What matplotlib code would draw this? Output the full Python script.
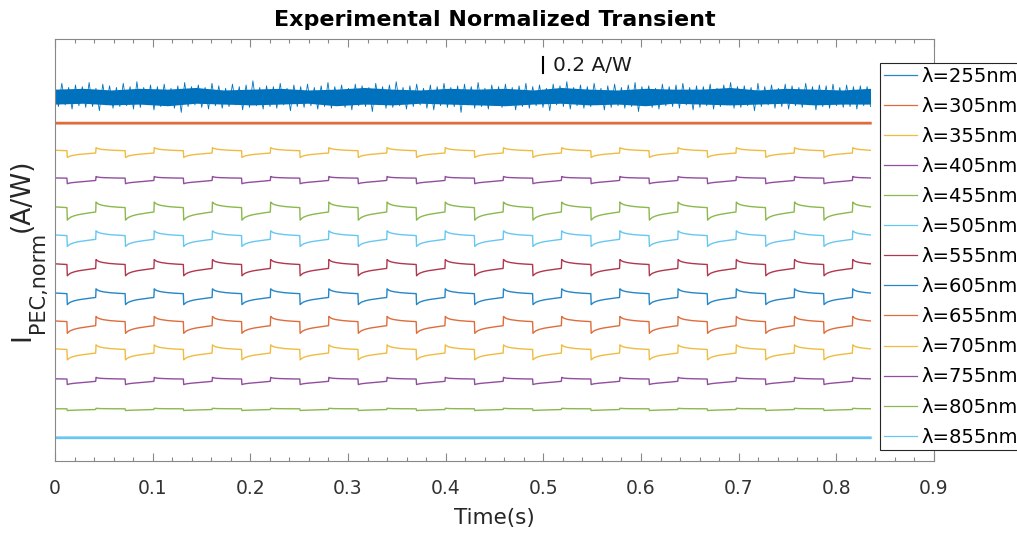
#! /usr/bin/env python
# Experimental normalized transient, stacked traces per wavelength
import numpy as np
import matplotlib.pyplot as plt
from matplotlib.lines import Line2D

plt.rcParams['font.family'] = ['DejaVu Sans']

# wavelengths and matlab colour order
wavelengths = [255, 305, 355, 405, 455, 505, 555, 605, 655, 705, 755, 805, 855]
colors = ['#0072BD', '#D95319', '#EDB120', '#7E2F8E', '#77AC30', '#4DBEEE', '#A2142F',
          '#0072BD', '#D95319', '#EDB120', '#7E2F8E', '#77AC30', '#4DBEEE']

# vertical offset of each trace (A/W) and height of the switching spike (A/W)
offsets = [4.39, 4.07, 3.71, 3.38, 3.00, 2.67, 2.32, 1.97, 1.63, 1.30, 0.96, 0.62, 0.28]
spike = [0.0, 0.0, 0.065, 0.048, 0.12, 0.104, 0.108, 0.105, 0.112, 0.10, 0.048, 0.015, 0.0]
shape = ['none', 'none', 'spiky', 'square', 'spiky', 'spiky', 'spiky', 'spiky', 'spiky',
         'spiky', 'square', 'square', 'none']

# one light on/off cycle (phase, value relative to spike)
cycle_phase = [0.0, 0.02, 0.05, 0.10, 0.15, 0.20, 0.30, 0.40, 0.49,
               0.495, 0.52, 0.55, 0.60, 0.70, 0.80, 0.90, 0.995]
spiky_cycle = [-0.83, -0.70, -0.55, -0.42, -0.33, -0.26, -0.16, -0.07, 0.0,
               1.0, 0.85, 0.76, 0.67, 0.57, 0.51, 0.47, 0.44]
square_cycle = [-0.83, -0.72, -0.62, -0.52, -0.45, -0.38, -0.26, -0.13, 0.0,
                1.0, 0.85, 0.78, 0.72, 0.66, 0.62, 0.60, 0.58]
period = 0.0596
first_off = 0.0125
t_end = 0.835

# 255 nm is pure noise: spike tops / bottoms and dense core, A/W above/below the centre
noise_up = [0.13,0.16,0.11,0.14,0.12,0.17,0.10,0.15,0.13,0.11,0.16,0.12,0.18,0.11,0.14,0.12,0.15,0.10,0.13,0.17,
            0.12,0.14,0.11,0.16,0.13,0.10,0.15,0.12,0.14,0.19,0.11,0.13,0.12,0.16,0.10,0.14,0.12,0.15,0.11,0.13,
            0.17,0.12,0.14,0.10,0.15,0.13,0.11,0.16,0.12,0.14,0.18,0.11,0.13,0.15,0.10,0.14,0.12,0.16,0.11,0.13,
            0.15,0.12,0.17,0.10,0.14,0.12,0.15,0.11,0.13,0.16,0.12,0.14,0.10,0.15,0.13,0.18,0.11,0.14,0.12,0.16,
            0.10,0.13,0.15,0.11,0.14,0.17,0.12,0.13,0.10,0.15,0.12,0.14,0.16,0.11,0.13,0.12,0.15,0.10,0.14,0.17,
            0.12,0.13,0.11,0.16,0.12,0.14,0.10,0.15,0.13,0.11,0.16,0.12,0.14,0.13,0.15,0.11,0.14,0.12,0.13,0.12]
noise_dn = [0.12,0.10,0.15,0.11,0.13,0.12,0.17,0.10,0.14,0.12,0.11,0.15,0.13,0.10,0.16,0.12,0.11,0.14,0.19,0.12,
            0.10,0.13,0.15,0.11,0.14,0.12,0.10,0.16,0.13,0.11,0.15,0.12,0.14,0.10,0.17,0.12,0.13,0.11,0.15,0.12,
            0.14,0.10,0.13,0.16,0.11,0.12,0.18,0.10,0.14,0.13,0.11,0.15,0.12,0.10,0.14,0.16,0.11,0.13,0.12,0.19,
            0.10,0.14,0.12,0.15,0.11,0.13,0.10,0.16,0.12,0.14,0.11,0.13,0.17,0.10,0.12,0.15,0.11,0.14,0.12,0.10,
            0.16,0.13,0.11,0.14,0.12,0.18,0.10,0.13,0.15,0.11,0.12,0.14,0.10,0.16,0.13,0.11,0.15,0.12,0.10,0.14,
            0.13,0.11,0.17,0.12,0.10,0.14,0.12,0.15,0.11,0.13,0.10,0.16,0.12,0.14,0.11,0.13,0.12,0.15,0.11,0.12]
core_up = [0.09,0.10,0.08,0.10,0.09,0.11,0.08,0.09,0.10,0.08,0.09,0.11,0.09,0.08,0.10,
           0.09,0.10,0.08,0.11,0.09,0.08,0.10,0.09,0.09,0.11,0.08,0.10,0.09,0.08,0.10]
core_dn = [0.09,0.08,0.10,0.09,0.11,0.08,0.09,0.10,0.09,0.08,0.11,0.09,0.10,0.08,0.09,
           0.10,0.11,0.09,0.08,0.10,0.09,0.11,0.08,0.09,0.10,0.09,0.08,0.10,0.09,0.09]

fig = plt.figure(figsize=(10.17, 5.36), dpi=100)
ax = fig.add_axes([55/1017, 75/536, 879/1017, 422/536])

t = np.arange(0, t_end, 0.0002)
ncyc = int(t_end / period) + 2
for i, wl in enumerate(wavelengths):
    if i == 0:
        # zig-zag between the spike tops and bottoms, plus the solid core
        zz = np.ravel(np.column_stack([np.array(noise_up), -np.array(noise_dn)]))
        tz = np.linspace(0, t_end, len(zz))
        ax.plot(tz, offsets[0] + zz, color=colors[0], lw=0.6)
        tc = np.linspace(0, t_end, len(core_up))
        ax.fill_between(tc, offsets[0] - np.array(core_dn), offsets[0] + np.array(core_up),
                        color=colors[0], lw=0)
        continue
    if shape[i] == 'none':
        y = np.full_like(t, offsets[i])
        lw = 2.0
    else:
        cyc = spiky_cycle if shape[i] == 'spiky' else square_cycle
        tt = np.concatenate([first_off + (k + np.array(cycle_phase)) * period for k in range(-1, ncyc)])
        vv = np.tile(cyc, ncyc + 1)
        y = offsets[i] + spike[i] * np.interp(t, tt, vv)
        lw = 1.0
    ax.plot(t, y, color=colors[i], lw=lw, alpha=0.85)

# scale bar
ax.plot([0.5, 0.5], [4.67, 4.87], color='black', lw=1.5)
ax.text(0.51, 4.77, '0.2 A/W', fontsize=14.5, va='center', ha='left', color='#1a1a1a')

ax.set_xlim(0, 0.9)
ax.set_ylim(0, 5.084)
ax.set_xticks(np.arange(0, 0.91, 0.1))
ax.set_xticklabels(['0', '0.1', '0.2', '0.3', '0.4', '0.5', '0.6', '0.7', '0.8', '0.9'])
ax.set_xticks(np.arange(0, 0.9, 0.02), minor=True)
ax.set_yticks([])
ax.tick_params(axis='x', which='both', direction='in', top=True, bottom=True,
               colors='#888888', labelcolor='#333333', labelsize=13.5, pad=13)
ax.tick_params(axis='x', which='major', length=5.5, width=0.8)
ax.tick_params(axis='x', which='minor', length=3, width=0.8)
for s in ax.spines.values():
    s.set_color('#888888')
    s.set_linewidth(0.8)

ax.set_xlabel('Time(s)', fontsize=15.5, color='#262626', labelpad=7)
ax.set_title('Experimental Normalized Transient', fontsize=16, fontweight='bold', pad=9)

handles = [Line2D([], [], color=c, lw=0.9, alpha=0.85) for c in colors]
labels = ['\u03bb=%dnm' % w for w in wavelengths]
leg = fig.legend(handles, labels, loc='upper left', bbox_to_anchor=(880/1017, 1 - 62.7/536),
                 fontsize=14, frameon=True, fancybox=False, framealpha=1, borderaxespad=0,
                 borderpad=0.2, labelspacing=0.57, handlelength=1.7, handletextpad=0.25)
leg.get_frame().set_edgecolor('#262626')
leg.get_frame().set_linewidth(0.8)

# y label built from pieces so the subscript can be sized like the original,
# centred on the axes like matlab does
fig.canvas.draw()
r = fig.canvas.get_renderer()
pieces = [('I', 19, 29), ('PEC,norm', 15, 44), ('(A/W)', 19, 29)]
widths = []
for txt, fs, xb in pieces:
    probe = fig.text(0, 0, txt, fontsize=fs)
    widths.append(probe.get_window_extent(r).width)
    probe.remove()
ypos = (536 - 250) - sum(widths) / 2
for (txt, fs, xb), w in zip(pieces, widths):
    fig.text(xb/1017, ypos/536, txt, fontsize=fs, rotation=90, rotation_mode='anchor',
             ha='left', va='baseline', color='#262626')
    ypos += w

plt.savefig('out.png', dpi=100)
